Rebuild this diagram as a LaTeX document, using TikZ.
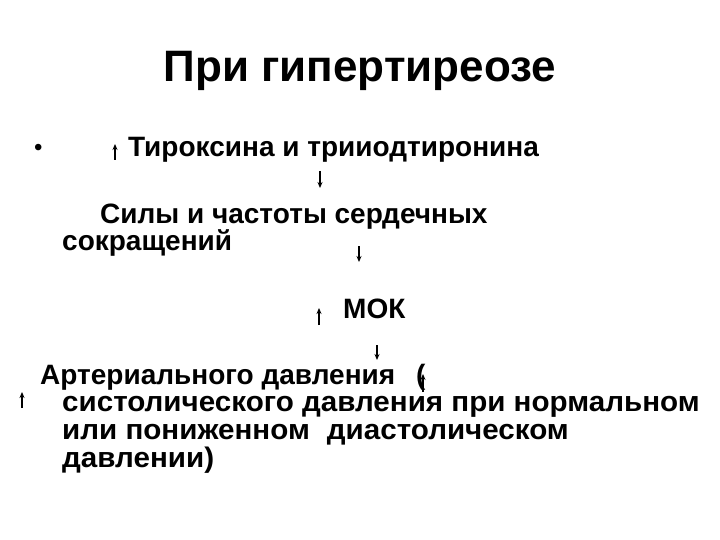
\documentclass[tikz,border=0pt]{standalone}
\usepackage{fontspec}
\setmainfont{Liberation Sans}
\usetikzlibrary{arrows.meta}
\tikzset{
  txt/.style={anchor=base west, inner sep=0pt, font=\fontsize{28}{31}\selectfont\bfseries},
  txtb/.style={anchor=base west, inner sep=0pt, font=\fontsize{28.3}{31}\selectfont\bfseries, xscale=1.045, transform shape},
  ttl/.style={anchor=base, inner sep=0pt, font=\fontsize{44}{48}\selectfont\bfseries},
  arr/.style={-{Stealth[length=6pt,width=5pt]}, line width=1.2pt},
}
\begin{document}
\begin{tikzpicture}[x=1pt,y=-1pt]
\useasboundingbox (0,0) rectangle (720,540);
\node[ttl] (title) at (360,82) {При гипертиреозе};
\node[anchor=base west, inner sep=0pt, font=\fontsize{24}{26}\selectfont] (bul) at (34,156) {•};
\node[txt] (t1) at (128,157) {Тироксина и трииодтиронина};
\node[txt] (t2) at (100,223) {Силы и частоты сердечных};
\node[txt] (t3) at (62,250) {сокращений};
\node[txt] (t4) at (343,318) {МОК};
\node[txt] (t5) at (40,384) {Артериального давления\hspace{0.75em}(};
\node[txtb] (t6) at (62,411) {систолического давления при нормальном};
\node[txtb] (t7) at (62,439) {или пониженном\hspace{0.3em} диастолическом};
\node[txtb] (t8) at (62,467) {давлении)};
\coordinate (a1s) at (115,160); \coordinate (a1e) at (115,144);
\coordinate (a2s) at (320,171); \coordinate (a2e) at (320,188);
\coordinate (a3s) at (359,246); \coordinate (a3e) at (359,262);
\coordinate (a4s) at (319,325); \coordinate (a4e) at (319,308);
\coordinate (a5s) at (377,345); \coordinate (a5e) at (377,360);
\coordinate (a6s) at (423,392); \coordinate (a6e) at (423,374);
\coordinate (a7s) at (22,408); \coordinate (a7e) at (22,392);
\draw[arr] (a1s) -- (a1e);
\draw[arr] (a2s) -- (a2e);
\draw[arr] (a3s) -- (a3e);
\draw[arr] (a4s) -- (a4e);
\draw[arr] (a5s) -- (a5e);
\draw[arr] (a6s) -- (a6e);
\draw[arr] (a7s) -- (a7e);
\end{tikzpicture}
\end{document}
